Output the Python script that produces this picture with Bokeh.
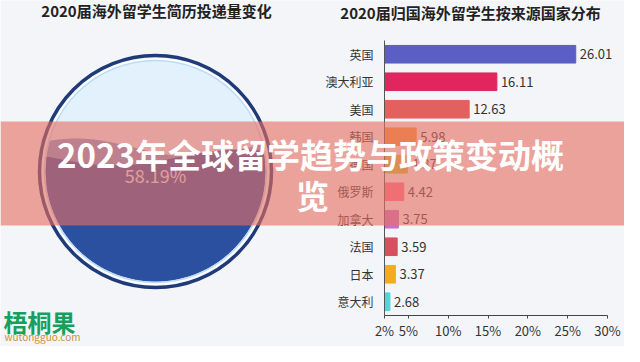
import numpy as np
from bokeh.plotting import figure
from bokeh.models import (ColumnDataSource, Range1d, FixedTicker,
                          PrintfTickFormatter, BoxAnnotation, PolyAnnotation, Label)
from bokeh.core.properties import value
from bokeh.embed import file_html
from bokeh.resources import INLINE

# ---------------- data ----------------
countries = ["英国", "澳大利亚", "美国", "韩国", "德国", "俄罗斯", "加拿大", "法国", "日本", "意大利"]
shares = [26.01, 16.11, 12.63, 5.98, 4.87, 4.42, 3.75, 3.59, 3.37, 2.68]
share_labels = ["26.01", "16.11", "12.63", "5.98", "4.87", "4.42", "3.75", "3.59", "3.37", "2.68"]
bar_colors = ["#5b5ec4", "#e0255f", "#e2615e", "#f59a3c", "#c9bf3a",
              "#ff6f91", "#c96fc8", "#d2525e", "#f2ad1e", "#4fd6d6"]
x_ticks = [2, 5, 10, 15, 20, 25, 30]
gauge_value = 58.19
gauge_label = "58.19%"
left_title = "2020届海外留学生简历投递量变化"
right_title = "2020届归国海外留学生按来源国家分布"
banner_line1 = "2023年全球留学趋势与政策变动概"
banner_line2 = "览"

W, H = 624, 346
FONT = "Noto Sans CJK SC"
BG = "#f3f5f8"

# layout of the bar panel inside the canvas (pixels)
PX_LEFT, PX_RIGHT, PX_TOP, PX_BOTTOM = 384, 607, 40, 315
X_MIN, X_MAX = x_ticks[0], x_ticks[-1]
n = len(countries)
kx = (PX_RIGHT - PX_LEFT) / (X_MAX - X_MIN)
row = (PX_BOTTOM - PX_TOP) / n
x_start = X_MIN - PX_LEFT / kx
x_end = X_MAX + (W - PX_RIGHT) / kx
y_end = n + 0.5 + PX_TOP / row
y_start = 0.5 - (H - PX_BOTTOM) / row

ypos = [n - i for i in range(n)]

p = figure(width=W, height=H, output_backend="svg", toolbar_location=None,
           x_range=Range1d(x_start, x_end), y_range=Range1d(y_start, y_end),
           min_border=0, background_fill_color=BG, border_fill_color=BG,
           outline_line_color=None)

src = ColumnDataSource(dict(y=ypos, country=countries, share=shares, label=share_labels,
                            color=bar_colors, left=[X_MIN] * n))
p.hbar(y="y", left="left", right="share", height=0.64, color="color", source=src)
p.text(x="share", y="y", text="label", x_offset=4, text_baseline="middle", text_align="left",
       text_font=value(FONT), text_font_size="13px", text_color="#333333", source=src)

p.grid.visible = False
xa = p.xaxis[0]
xa.fixed_location = 0.5
xa.bounds = (X_MIN, X_MAX)
xa.ticker = FixedTicker(ticks=x_ticks)
xa.formatter = PrintfTickFormatter(format="%d%%")
xa.major_label_text_font = FONT
xa.major_label_text_font_size = "13px"
xa.major_label_text_color = "#333333"
xa.axis_line_color = "#444444"
xa.major_tick_line_color = "#444444"
xa.major_tick_out = 3
xa.major_tick_in = 0
xa.minor_tick_line_color = None
xa.major_label_standoff = 2

ya = p.yaxis[0]
ya.fixed_location = X_MIN
ya.bounds = (0.5, n + 0.5)
ya.ticker = FixedTicker(ticks=ypos)
ya.major_label_overrides = {y: c for y, c in zip(ypos, countries)}
ya.major_label_text_font = FONT
ya.major_label_text_font_size = "12px"
ya.major_label_text_color = "#333333"
ya.axis_line_color = "#555555"
ya.major_tick_line_color = None
ya.minor_tick_line_color = None
ya.major_label_standoff = 5

# ---------------- gauge (canvas units) ----------------
cx, cy = 155, 171
NAVY = "#1f3a78"


def ring(r, fill=None, line=None, lw=1.0):
    return BoxAnnotation(left=cx - r, right=cx + r, top=cy - r, bottom=cy + r,
                         left_units="canvas", right_units="canvas",
                         top_units="canvas", bottom_units="canvas",
                         border_radius=int(r),
                         fill_color=fill if fill else "#ffffff", fill_alpha=1 if fill else 0,
                         line_color=line, line_alpha=1, line_width=lw)


p.add_layout(ring(116, None, NAVY, 3.5))
p.add_layout(ring(112, "#e3f1fc", "#ffffff", 2.5))

r_in = 110.0
level = cy + r_in - 2 * r_in * gauge_value / 100.0


def wave_poly(amp, lam, phase, dy, color):
    xs = np.linspace(cx - r_in, cx + r_in, 240)
    dx = xs - cx
    half = np.sqrt(np.clip(r_in ** 2 - dx ** 2, 0, None))
    top, bot = cy - half, cy + half
    wave = level + dy + amp * np.sin(2 * np.pi * (xs - cx) / lam + phase)
    upper = np.minimum(np.maximum(wave, top), bot)
    px = np.concatenate([xs, xs[::-1]]).tolist()
    py = np.concatenate([upper, bot[::-1]]).tolist()
    return PolyAnnotation(xs=px, ys=py, xs_units="canvas", ys_units="canvas",
                          fill_color=color, fill_alpha=1, line_color=None)


p.add_layout(wave_poly(9, 230, 0.6, -6, "#7d9bd3"))
p.add_layout(wave_poly(8, 250, 2.6, 4, "#2b50a0"))
p.add_layout(ring(111, None, "#bcdcf5", 1.5))
p.add_layout(Label(x=cx, y=cy + 3, x_units="canvas", y_units="canvas", text=gauge_label,
                   text_align="center", text_baseline="middle", text_font=FONT,
                   text_font_size="18px", text_color="#dbe9f7"))

# ---------------- titles ----------------
p.add_layout(Label(x=156, y=10, x_units="canvas", y_units="canvas", text=left_title,
                   text_align="center", text_baseline="middle", text_font=FONT,
                   text_font_size="15px", text_font_style="bold", text_color="#222222"))
p.add_layout(Label(x=470, y=12, x_units="canvas", y_units="canvas", text=right_title,
                   text_align="center", text_baseline="middle", text_font=FONT,
                   text_font_size="15px", text_font_style="bold", text_color="#222222"))

# ---------------- logo ----------------
p.add_layout(Label(x=3, y=321, x_units="canvas", y_units="canvas", text="梧桐果",
                   text_align="left", text_baseline="middle", text_font=FONT,
                   text_font_size="24px", text_font_style="bold", text_color="#17a05d"))
p.add_layout(Label(x=4, y=336, x_units="canvas", y_units="canvas", text="wutongguo.com",
                   text_align="left", text_baseline="middle", text_font=FONT,
                   text_font_size="10px", text_color="#c8913a"))

# ---------------- banner ----------------
p.add_layout(BoxAnnotation(left=0, right=W, top=121, bottom=225,
                           left_units="canvas", right_units="canvas",
                           top_units="canvas", bottom_units="canvas",
                           fill_color="#e56f62", fill_alpha=0.62, line_color=None))
p.add_layout(Label(x=310, y=153, x_units="canvas", y_units="canvas", text=banner_line1,
                   text_align="center", text_baseline="middle", text_font=FONT,
                   text_font_size="33px", text_font_style="bold", text_color="#ffffff"))
p.add_layout(Label(x=312, y=194, x_units="canvas", y_units="canvas", text=banner_line2,
                   text_align="center", text_baseline="middle", text_font=FONT,
                   text_font_size="33px", text_font_style="bold", text_color="#ffffff"))

open("out.html", "w").write(file_html(p, INLINE))
